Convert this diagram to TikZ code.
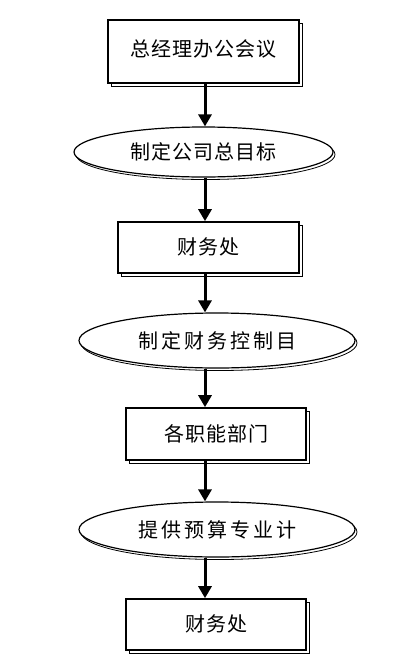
\documentclass[tikz,border=0pt]{standalone}
\usepackage{fontspec}
\newfontfamily\cjk{Noto Sans CJK SC}
\usetikzlibrary{shapes.geometric,shadows,arrows.meta}
\begin{document}
\begin{tikzpicture}[x=1pt,y=-1pt,
    box/.style={draw, line width=1.6pt, fill=white, inner sep=0pt,
      font=\cjk\fontsize{20}{20}\selectfont\addfontfeature{LetterSpace=5},
      copy shadow={shadow xshift=3pt, shadow yshift=-3pt, line width=1pt}},
    goal/.style={draw, ellipse, line width=1.2pt, fill=white, inner sep=0pt,
      font=\cjk\fontsize{20}{20}\selectfont\addfontfeature{LetterSpace=5},
      copy shadow={shadow xshift=2pt, shadow yshift=-2.5pt, line width=0.8pt}},
    wide/.style={font=\cjk\fontsize{20}{20}\selectfont\addfontfeature{LetterSpace=15}},
    flow/.style={-{Triangle[length=12pt,width=13pt]}, line width=3pt}]
      \useasboundingbox (0,0) rectangle (411,670);
      \coordinate (axis) at (205,0);
      \node[box, minimum width=191pt, minimum height=63pt] (meet) at (203.5,51.5) {\raisebox{6pt}{总经理办公会议}\hspace{14pt}};
      \node[goal, minimum width=259pt, minimum height=50pt] (g1) at (203.5,152) {制定公司总目标};
      \node[box, minimum width=181pt, minimum height=51pt] (fin1) at (208.5,247.5) {\raisebox{2pt}{财务处}};
      \node[goal, wide, minimum width=276pt, minimum height=55pt] (g2) at (217,340.5) {制定财务控制目};
      \node[box, minimum width=180pt, minimum height=52pt] (dept) at (216,434) {\raisebox{2pt}{各职能部门}};
      \node[goal, wide, minimum width=276pt, minimum height=55pt] (g3) at (217,529.5) {提供预算专业计};
      \node[box, minimum width=180pt, minimum height=51pt] (fin2) at (216,624.5) {\raisebox{2pt}{财务处}};
      \draw[flow] (meet.south -| axis) -- (g1.north -| axis);
      \draw[flow] (g1.south -| axis) -- (fin1.north -| axis);
      \draw[flow] (fin1.south -| axis) -- (g2.north -| axis);
      \draw[flow] (g2.south -| axis) -- (dept.north -| axis);
      \draw[flow] (dept.south -| axis) -- (g3.north -| axis);
      \draw[flow] (g3.south -| axis) -- (fin2.north -| axis);
    \end{tikzpicture}
\end{document}
